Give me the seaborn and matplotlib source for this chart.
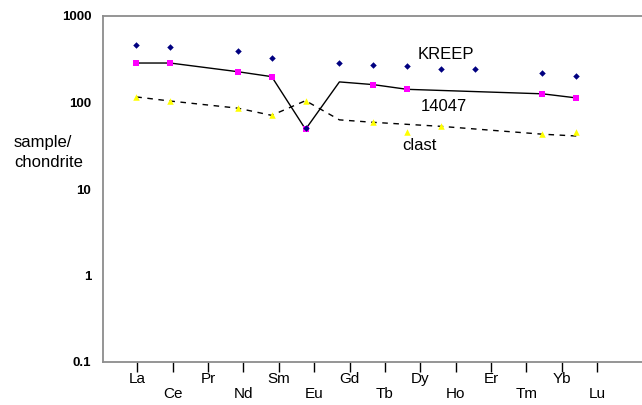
import numpy as np
import pandas as pd
import matplotlib
matplotlib.use("Agg")
import matplotlib.pyplot as plt
from matplotlib.ticker import NullLocator, NullFormatter
import seaborn as sns

nan = np.nan

# rare earth elements, in the order on the x axis
elements = ['La', 'Ce', 'Pr', 'Nd', 'Sm', 'Eu', 'Gd', 'Tb', 'Dy', 'Ho', 'Er', 'Tm', 'Yb', 'Lu']

# sample / chondrite values
kreep = [466, 442, nan, 391, 330, 51, 286, 274, 266, 246, 246, nan, 221, 203]
s14047_pts = [286, 286, nan, 227, 199, 49, nan, 161, 142, nan, nan, nan, 126, 113]
s14047_line = [286, 286, nan, 227, 199, 49, 173, 161, 142, nan, nan, nan, 126, 113]
clast_pts = [116, 104, nan, 86, 71, 105, nan, 59, 45, 53, nan, nan, 43, 45]
clast_line = [116, 104, nan, 86, 71, 105, 63, 59, nan, 53, nan, nan, 43, 41]

y_ticks = [0.1, 1, 10, 100, 1000]
y_labels = ['0.1', '1', '10', '100', '1000']

df = pd.DataFrame({
    'pos': np.arange(len(elements)),
    'kreep': kreep,
    's14047_pts': s14047_pts,
    's14047_line': s14047_line,
    'clast_pts': clast_pts,
    'clast_line': clast_line,
})

sns.set_style('white')
plt.rcParams['font.family'] = ['Liberation Sans', 'DejaVu Sans']
plt.rcParams['text.color'] = 'black'
plt.rcParams['xtick.labelcolor'] = 'black'
plt.rcParams['ytick.labelcolor'] = 'black'

fig = plt.figure(figsize=(6.42, 4.05), dpi=100)
ax = fig.add_axes([103 / 642, 43 / 405, 539 / 642, 346 / 405])

# lines first, markers on top
sns.lineplot(data=df.dropna(subset=['s14047_line']), x='pos', y='s14047_line',
             color='black', linewidth=1, ax=ax)
sns.lineplot(data=df.dropna(subset=['clast_line']), x='pos', y='clast_line',
             color='black', linewidth=1, linestyle=(0, (4, 4)), ax=ax)

sns.scatterplot(data=df, x='pos', y='s14047_pts', marker='s', s=18,
                color='#FF00FF', linewidth=0, ax=ax, zorder=3)
sns.scatterplot(data=df, x='pos', y='clast_pts', marker='^', s=22,
                color='#FFFF00', linewidth=0, ax=ax, zorder=3)
sns.scatterplot(data=df, x='pos', y='kreep', marker='D', s=11,
                color='#000080', linewidth=0, ax=ax, zorder=4)

ax.set_yscale('log')
ax.set_ylim(0.1, 1000)
ax.set_xlim(-0.984, 14.94)
ax.set_yticks(y_ticks, labels=y_labels)
ax.yaxis.set_minor_locator(NullLocator())
ax.yaxis.set_minor_formatter(NullFormatter())
for lab in ax.get_yticklabels():
    lab.set_fontweight('bold')
ax.tick_params(axis='y', length=0, pad=8.5, labelsize=9.5, labelcolor='black')

# category ticks sit on a slightly wider spacing than the points
tick_pos = 0.03 + 1.045 * np.arange(len(elements))
ax.set_xticks(tick_pos[0::2], labels=elements[0::2])
ax.set_xticks(tick_pos[1::2], labels=elements[1::2], minor=True)
ax.tick_params(axis='x', which='both', direction='out', length=7.2, width=1,
               color='black', labelcolor='black', labelsize=11, bottom=True)
ax.tick_params(axis='x', which='major', pad=0)
ax.tick_params(axis='x', which='minor', pad=10.5)

ax.set_xlabel('')
ax.set_ylabel('')
for side in ['left', 'top', 'bottom']:
    ax.spines[side].set_color('#8c8c8c')
    ax.spines[side].set_linewidth(1.3)
ax.spines['right'].set_visible(False)

ax.text(9.15, 316, 'KREEP', fontsize=12, ha='center', va='baseline')
ax.text(9.08, 80, '14047', fontsize=12, ha='center', va='baseline')
ax.text(8.35, 28.3, 'clast', fontsize=12, ha='center', va='baseline')

fig.text(14 / 642, 1 - 146.7 / 405, 'sample/', fontsize=12, ha='left', va='baseline')
fig.text(14 / 642, 1 - 166.7 / 405, 'chondrite', fontsize=12, ha='left', va='baseline')

fig.savefig('out.png', dpi=100)
